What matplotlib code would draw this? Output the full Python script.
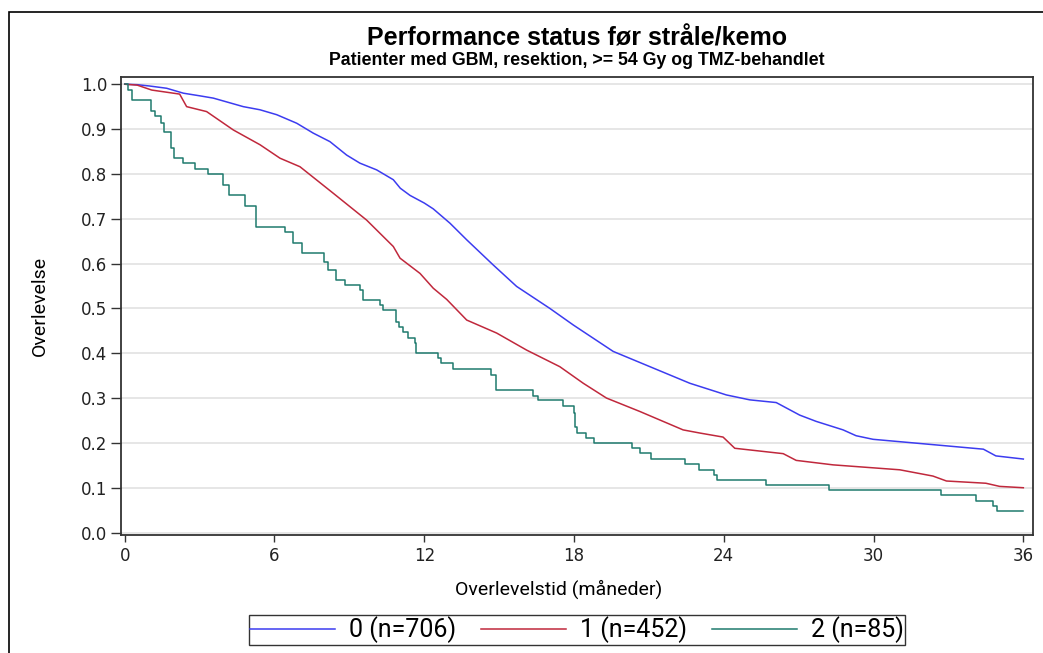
import numpy as np
import matplotlib
matplotlib.use('Agg')
import matplotlib.pyplot as plt
from matplotlib.patches import Rectangle

# --- data (months, survival) ---
t_ps0 = [0, 0.5, 1.0, 1.68, 2.35, 3.02, 3.55, 4.75, 5.42, 6.09, 6.89, 7.55, 8.22,
         8.89, 9.42, 10.09, 10.76, 11.04, 11.43, 12.0, 12.36, 13.03, 13.70, 14.76, 15.70,
         17.03, 17.97, 19.57, 21.04, 22.64, 23.71, 24.1, 25.04, 26.1, 27.04, 27.7,
         28.78, 29.3, 29.98, 32.4, 34.4, 34.9, 36]
s_ps0 = [1.0, 0.999, 0.996, 0.991, 0.98, 0.974, 0.969, 0.95, 0.943, 0.932, 0.913, 0.891, 0.872,
         0.842, 0.824, 0.809, 0.787, 0.768, 0.752, 0.735, 0.722, 0.690, 0.653, 0.597, 0.549,
         0.500, 0.463, 0.404, 0.370, 0.333, 0.314, 0.307, 0.296, 0.290, 0.262, 0.248,
         0.229, 0.216, 0.208, 0.196, 0.186, 0.171, 0.164]

t_ps1 = [0, 0.5, 1.08, 2.2, 2.48, 3.28, 4.35, 5.42, 6.22, 7.02, 8.35, 9.69, 10.76,
         11.03, 11.83, 12.36, 12.9, 13.7, 14.9, 16.1, 17.43, 18.37, 19.3, 20.64,
         22.37, 23.04, 23.97, 24.44, 26.38, 26.9, 28.38, 31.05, 32.38, 32.92, 34.5,
         35.05, 36]
s_ps1 = [1.0, 0.998, 0.987, 0.978, 0.95, 0.939, 0.898, 0.865, 0.835, 0.816, 0.757, 0.697, 0.638,
         0.612, 0.578, 0.545, 0.52, 0.474, 0.445, 0.407, 0.370, 0.333, 0.300, 0.270,
         0.229, 0.222, 0.213, 0.188, 0.176, 0.161, 0.151, 0.140, 0.126, 0.115, 0.110,
         0.103, 0.100]

t_ps2 = [0, 0.15, 0.3, 1.04, 1.21, 1.45, 1.59, 1.85, 1.97, 2.35, 2.82, 3.35, 3.92, 4.19,
         4.82, 5.24, 6.42, 6.75, 7.09, 7.98, 8.15, 8.45, 8.82, 9.42, 9.56, 10.22, 10.36,
         10.87, 11.0, 11.16, 11.36, 11.63, 11.67, 12.56, 12.66, 13.14, 14.66, 14.87,
         16.34, 16.54, 17.54, 17.99, 18.03, 18.1, 18.47, 18.8, 20.34, 20.66, 21.1,
         22.44, 23.01, 23.6, 23.74, 25.68, 28.2, 32.72, 34.09, 34.78, 34.94, 36]
s_ps2 = [1.0, 0.988, 0.965, 0.941, 0.929, 0.913, 0.894, 0.857, 0.835, 0.824, 0.811, 0.799, 0.775, 0.753,
         0.729, 0.682, 0.670, 0.645, 0.623, 0.604, 0.586, 0.564, 0.552, 0.541, 0.519, 0.508, 0.497,
         0.47, 0.459, 0.448, 0.435, 0.422, 0.400, 0.389, 0.378, 0.364, 0.352, 0.318,
         0.305, 0.296, 0.283, 0.266, 0.236, 0.223, 0.211, 0.199, 0.188, 0.177, 0.164,
         0.153, 0.140, 0.129, 0.118, 0.106, 0.095, 0.083, 0.071, 0.060, 0.047, 0.047]

group_labels = ['0 (n=706)', '1 (n=452)', '2 (n=85)']
x_ticks = [0, 6, 12, 18, 24, 30, 36]
y_ticks = [0.0, 0.1, 0.2, 0.3, 0.4, 0.5, 0.6, 0.7, 0.8, 0.9, 1.0]

title = 'Performance status før stråle/kemo'
subtitle = 'Patienter med GBM, resektion, >= 54 Gy og TMZ-behandlet'

colors = ['#3c3cf0', '#c0283c', '#1f7a6e']
narrow = ['Roboto', 'DejaVu Sans']

fig = plt.figure(figsize=(10.43, 6.53), dpi=100)
ax = fig.add_axes([0.116, 0.181, 0.874, 0.701])

# outer frame (runs off the right and bottom edge like the reference)
fig.patches.append(Rectangle((9 / 1043, -0.05), 1.2, 1 - 12 / 653 + 0.05,
                             transform=fig.transFigure, fill=False,
                             edgecolor='black', linewidth=1.2))

ax.plot(t_ps0, s_ps0, color=colors[0], lw=1.1, label=group_labels[0])
ax.plot(t_ps1, s_ps1, color=colors[1], lw=1.1, label=group_labels[1])
ax.plot(t_ps2, s_ps2, color=colors[2], lw=1.1, drawstyle='steps-post', label=group_labels[2])

ax.set_xlim(-0.15, 36.37)
ax.set_ylim(-0.005, 1.016)
ax.set_xticks(x_ticks)
ax.set_yticks(y_ticks)
ax.set_yticklabels([f'{v:.1f}' for v in y_ticks])
ax.tick_params(axis='y', length=7, width=1, pad=3, labelsize=12, color='#333333')
ax.tick_params(axis='x', length=5, width=1, pad=4, labelsize=12, color='#333333')
for lab in ax.get_xticklabels() + ax.get_yticklabels():
    lab.set_color('#222222')

ax.grid(axis='y', color='#e4e4e4', linewidth=1.3)
ax.set_axisbelow(True)
for sp in ax.spines.values():
    sp.set_color('#333333')
    sp.set_linewidth(1.3)

ax.set_xlabel('Overlevelstid (måneder)', fontsize=14, family=narrow)
ax.set_ylabel('Overlevelse', fontsize=14, family=narrow)
ax.xaxis.set_label_coords((559 - 121) / 912, -(590 - 535) / 458)
ax.yaxis.set_label_coords(-(121 - 40) / 912, 0.5)
ax.xaxis.label.set_va('center')
ax.yaxis.label.set_va('center')

cx = 0.116 + 0.874 / 2
fig.text(cx, 1 - 45 / 653, title, ha='center', va='baseline',
         fontsize=18, fontweight='bold', family=['Liberation Sans', 'DejaVu Sans'])
fig.text(cx, 1 - 65 / 653, subtitle, ha='center', va='baseline',
         fontsize=12.8, fontweight='bold', family=['Liberation Sans', 'DejaVu Sans'])

leg = fig.legend(loc='center', bbox_to_anchor=(577 / 1043, 1 - 630 / 653), ncol=3,
                 frameon=True, fancybox=False, edgecolor='black',
                 prop={'family': narrow, 'size': 18}, handlelength=3.4,
                 columnspacing=1.0, handletextpad=0.55, borderpad=0.05,
                 borderaxespad=0)
leg.get_frame().set_linewidth(1.0)

fig.savefig('out.png', dpi=100)
